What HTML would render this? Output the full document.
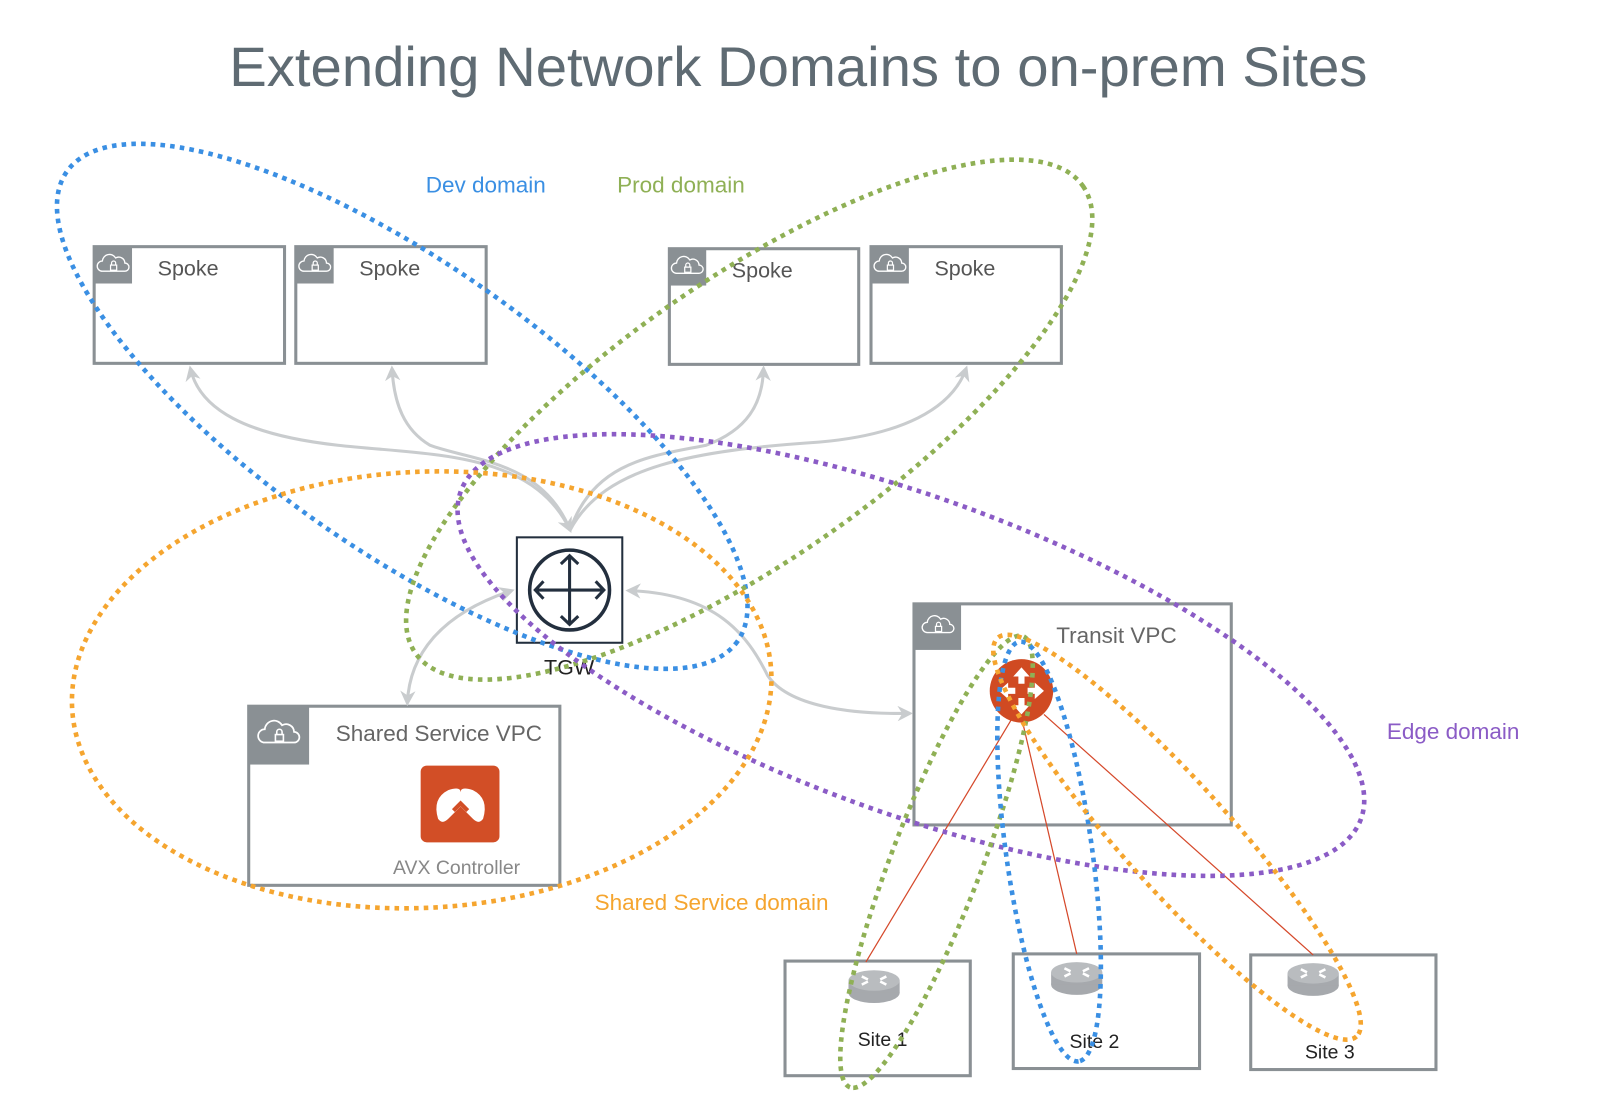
<!DOCTYPE html>
<html><head><meta charset="utf-8"><style>
html,body{margin:0;padding:0;background:#fff;}
svg{display:block;font-family:"Liberation Sans",sans-serif;}
</style></head><body>
<svg width="1604" height="1112" viewBox="0 0 1604 1112" xmlns="http://www.w3.org/2000/svg">
<defs>
<marker id="ah" viewBox="0 0 10 10" refX="8" refY="5" markerWidth="5" markerHeight="5" orient="auto-start-reverse">
<path d="M0,0 L10,5 L0,10 L3,5 z" fill="#c9ccce"/></marker>
<g id="cloud"><path d="M-11,5 a5,5 0 0 1 0,-10 a7,7 0 0 1 13,-3 a6,6 0 0 1 9,5 a4,4 0 0 1 0,8 z" fill="none" stroke="#fff" stroke-width="1.3"/><rect x="-3" y="-1" width="6" height="5" fill="none" stroke="#fff" stroke-width="1.2"/><path d="M-2,-1 v-2 a2,2 0 0 1 4,0 v2" fill="none" stroke="#fff" stroke-width="1.2"/></g>
<g id="rtr"><ellipse cx="0" cy="10" rx="25" ry="10" fill="#a6a9ad"/><rect x="-25" y="-2" width="50" height="12" fill="#a6a9ad"/><ellipse cx="0" cy="-2" rx="25" ry="10" fill="#b9bcbf"/><path d="M-12,-6 l6,3 M12,-6 l-6,3 M-12,2 l6,-3 M12,2 l-6,-3" stroke="#fff" stroke-width="2.5"/></g>
</defs>
<g transform="scale(1.0235)">
<text x="780" y="84" text-anchor="middle" font-size="54" fill="#5f6b73" textLength="1112" lengthAdjust="spacingAndGlyphs">Extending Network Domains to on-prem Sites</text>

<g fill="#fff" stroke="#8a9094" stroke-width="3">
<rect x="92" y="241" width="186" height="114"/><rect x="289" y="241" width="186" height="114"/>
<rect x="654" y="243" width="185" height="113"/><rect x="851" y="241" width="186" height="114"/>
<rect x="893" y="590" width="310" height="216"/><rect x="243" y="690" width="304" height="175"/>
<rect x="767" y="939" width="181" height="112"/><rect x="990" y="932" width="182" height="112"/><rect x="1222" y="933" width="181" height="112"/>
</g>
<g fill="#8a9094">
<rect x="92" y="241" width="37" height="36"/><rect x="289" y="241" width="37" height="36"/>
<rect x="654" y="243" width="36" height="36"/><rect x="851" y="241" width="37" height="36"/>
<rect x="893" y="590" width="46" height="45"/><rect x="243" y="690" width="59" height="57"/>
</g>
<use href="#cloud" x="111" y="260"/><use href="#cloud" x="308" y="260"/><use href="#cloud" x="672" y="262"/><use href="#cloud" x="870" y="260"/>
<use href="#cloud" x="917" y="613"/><use href="#cloud" transform="translate(273,719) scale(1.3)"/>
<g font-size="21" fill="#555">
<text x="154" y="269">Spoke</text><text x="351" y="269">Spoke</text><text x="715" y="271">Spoke</text><text x="913" y="269">Spoke</text>
</g>
<text x="1032" y="628" font-size="22" fill="#666">Transit VPC</text>
<text x="328" y="724" font-size="22" fill="#666">Shared Service VPC</text>
<text x="384" y="854" font-size="19" fill="#888">AVX Controller</text>
<rect x="411" y="748" width="77" height="75" rx="6" fill="#d24e26"/>
<path d="M428,800 q-6,-20 10,-28 q12,-4 12,2 q0,-6 12,-2 q16,8 10,28 q-4,6 -10,0 l-12,-12 l-12,12 q-6,6 -10,0z" fill="#fff"/>
<path d="M443,792 l7,-7 l7,7" stroke="#d24e26" stroke-width="4" fill="none"/>

<rect x="505" y="525" width="103" height="103" fill="#fff" stroke="#232f3e" stroke-width="2"/>
<circle cx="556.5" cy="576.5" r="39" fill="none" stroke="#232f3e" stroke-width="3.5"/>
<path d="M556.5,543v67M523,576.5h67M548,551l8.5,-8 8.5,8M548,602l8.5,8 8.5,-8M531,568l-8,8.5 8,8.5M582,568l8,8.5 -8,8.5" stroke="#232f3e" stroke-width="3" fill="none"/>
<text x="556" y="659" text-anchor="middle" font-size="21" fill="#222">TGW</text>

<g fill="none" stroke="#c9ccce" stroke-width="3">
<path d="M557,518 C520,440 420,445 330,435 C240,425 195,400 186,360" marker-start="url(#ah)" marker-end="url(#ah)"/>
<path d="M557,518 C530,450 460,450 420,435 C395,420 385,395 383,360" marker-end="url(#ah)"/>
<path d="M557,518 C580,450 640,445 690,435 C730,420 745,395 746,360" marker-end="url(#ah)"/>
<path d="M557,518 C590,455 680,440 800,432 C880,425 930,400 944,360" marker-end="url(#ah)"/>
<path d="M500,577 C430,600 400,640 398,687" marker-start="url(#ah)" marker-end="url(#ah)"/>
<path d="M614,577 C700,580 730,620 750,660 C770,690 830,698 889,697" marker-start="url(#ah)" marker-end="url(#ah)"/>
</g>

<g stroke="#d5482a" stroke-width="1.2">
<line x1="990" y1="700" x2="846" y2="940"/><line x1="999" y1="705" x2="1052" y2="932"/><line x1="1020" y1="698" x2="1283" y2="933"/>
</g>
<use href="#rtr" x="854" y="960"/><use href="#rtr" x="1052" y="952"/><use href="#rtr" x="1283" y="953"/>
<g font-size="19" fill="#222"><text x="838" y="1022">Site 1</text><text x="1045" y="1024">Site 2</text><text x="1275" y="1034">Site 3</text></g>

<circle cx="998" cy="675" r="31" fill="#d04a22"/>
<g fill="#fff"><path d="M998,652 l-8,9 h5 v7 h6 v-7 h5z"/><path d="M998,698 l-8,-9 h5 v-7 h6 v7 h5z"/><path d="M976,675 l9,-8 v5 h7 v6 h-7 v5z"/><path d="M1020,675 l-9,-8 v5 h-7 v6 h7 v5z"/></g>

<g fill="none" stroke-width="4.5" stroke-dasharray="4.5 5">
<ellipse cx="393" cy="397" rx="400" ry="140" transform="rotate(35 393 397)" stroke="#3a8fe3"/>
<ellipse cx="732" cy="410" rx="398" ry="136" transform="rotate(-35 732 410)" stroke="#8fb055"/>
<ellipse cx="890" cy="640" rx="468" ry="154" transform="rotate(20 890 640)" stroke="#8b5cc6"/>
<ellipse cx="412" cy="674" rx="342" ry="213" transform="rotate(-3 412 674)" stroke="#f5a52f"/>
<ellipse cx="915" cy="842" rx="236" ry="44" transform="rotate(111 915 842)" stroke="#8fb055"/>
<ellipse cx="1025" cy="832" rx="207" ry="42" transform="rotate(82 1025 832)" stroke="#3a8fe3"/>
<ellipse cx="1150" cy="818" rx="262" ry="52" transform="rotate(48 1150 818)" stroke="#f5a52f"/>
</g>

<g font-size="22">
<text x="416" y="188" fill="#3a8fe3">Dev domain</text>
<text x="603" y="188" fill="#8fb055">Prod domain</text>
<text x="1355" y="722" fill="#8b5cc6">Edge domain</text>
<text x="581" y="889" fill="#f5a52f">Shared Service domain</text>
</g>
</g>
</svg>
</body></html>
